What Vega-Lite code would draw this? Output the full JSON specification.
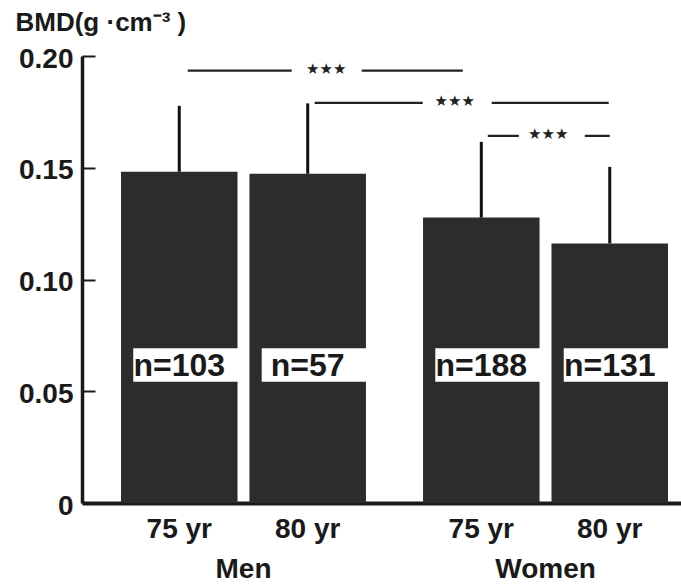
{
  "$schema": "https://vega.github.io/schema/vega-lite/v6.json",
  "width": 599,
  "height": 447,
  "autosize": "none",
  "padding": {"left": 82, "top": 56, "right": 0, "bottom": 82},
  "background": "white",
  "config": {
    "view": {"stroke": null},
    "font": "Liberation Sans",
    "axis": {"grid": false}
  },
  "datasets": {
    "bmd": [
      {"sex": "Men", "age": "75 yr", "bmd": 0.1482, "upper": 0.1777, "n": 103},
      {"sex": "Men", "age": "80 yr", "bmd": 0.1473, "upper": 0.1788, "n": 57},
      {"sex": "Women", "age": "75 yr", "bmd": 0.1277, "upper": 0.1616, "n": 188},
      {"sex": "Women", "age": "80 yr", "bmd": 0.1161, "upper": 0.1504, "n": 131}
    ],
    "sig": [
      {"cmp": 1, "end": "start", "sex": "Men", "age": "75 yr", "y": 0.1935, "label": "★★★"},
      {"cmp": 1, "end": "end", "sex": "Women", "age": "75 yr", "y": 0.1935, "label": "★★★"},
      {"cmp": 2, "end": "start", "sex": "Men", "age": "80 yr", "y": 0.179, "label": "★★★"},
      {"cmp": 2, "end": "end", "sex": "Women", "age": "80 yr", "y": 0.179, "label": "★★★"},
      {"cmp": 3, "end": "start", "sex": "Women", "age": "75 yr", "y": 0.1643, "label": "★★★"},
      {"cmp": 3, "end": "end", "sex": "Women", "age": "80 yr", "y": 0.1643, "label": "★★★"}
    ]
  },
  "layer": [
    {
      "data": {"name": "bmd"},
      "mark": {"type": "bar", "color": "#2c2c2c"},
      "encoding": {
        "x": {
          "field": "sex", "type": "nominal",
          "scale": {"domain": ["Men", "Women"], "paddingInner": 0.189, "paddingOuter": 0.0861, "align": 0.75},
          "axis": {
            "title": null, "labelAngle": 0, "ticks": false, "tickSize": 0,
            "labelFont": "Liberation Sans", "labelFontWeight": "bold", "labelFontSize": 28,
            "labelColor": "#1a1a1a", "labelBaseline": "middle", "labelPadding": 66,
            "domainColor": "#1a1a1a", "domainWidth": 4
          }
        },
        "xOffset": {
          "field": "age", "type": "nominal",
          "scale": {"domain": ["75 yr", "80 yr"], "paddingInner": 0.093, "paddingOuter": 0}
        },
        "y": {
          "field": "bmd", "type": "quantitative",
          "scale": {"domain": [0, 0.2], "nice": false, "zero": true},
          "axis": {
            "values": [0, 0.05, 0.1, 0.15, 0.2],
            "labelExpr": "datum.value == 0 ? '0' : format(datum.value, '.2f')",
            "labelFont": "Liberation Sans", "labelFontWeight": "bold", "labelFontSize": 28,
            "labelColor": "#1a1a1a", "labelPadding": 22, "labelOffset": 3,
            "tickSize": -13, "tickWidth": 2, "tickColor": "#1a1a1a",
            "domainColor": "#1a1a1a", "domainWidth": 3.5,
            "title": "BMD(g ·cm⁻³ )", "titleAngle": 0, "titleAlign": "left", "titleBaseline": "middle",
            "titleX": -67, "titleY": -34, "titleFont": "Liberation Sans", "titleFontWeight": "bold",
            "titleFontSize": 26, "titleColor": "#1a1a1a"
          }
        }
      }
    },
    {
      "data": {"name": "bmd"},
      "mark": {"type": "rule", "color": "#111111", "strokeWidth": 3},
      "encoding": {
        "x": {"field": "sex", "type": "nominal"},
        "xOffset": {"field": "age", "type": "nominal"},
        "y": {"field": "bmd", "type": "quantitative"},
        "y2": {"field": "upper"}
      }
    },
    {
      "data": {"name": "bmd"},
      "mark": {"type": "bar", "color": "white", "width": {"band": 0.9}},
      "encoding": {
        "x": {"field": "sex", "type": "nominal"},
        "xOffset": {"field": "age", "type": "nominal"},
        "y": {"datum": 0.0692, "type": "quantitative"},
        "y2": {"datum": 0.0543}
      }
    },
    {
      "data": {"name": "bmd"},
      "mark": {"type": "text", "font": "Liberation Sans", "fontWeight": "bold", "fontSize": 32, "color": "#1a1a1a", "baseline": "middle", "text": {"expr": "'n=' + datum.n"}},
      "encoding": {
        "x": {"field": "sex", "type": "nominal"},
        "xOffset": {"field": "age", "type": "nominal"},
        "y": {"datum": 0.0614, "type": "quantitative"}
      }
    },
    {
      "data": {"name": "bmd"},
      "mark": {"type": "text", "font": "Liberation Sans", "fontWeight": "bold", "fontSize": 28, "color": "#1a1a1a", "baseline": "middle", "dy": 27},
      "encoding": {
        "x": {"field": "sex", "type": "nominal"},
        "xOffset": {"field": "age", "type": "nominal"},
        "y": {"datum": 0, "type": "quantitative"},
        "text": {"field": "age"}
      }
    },
    {
      "data": {"name": "sig"},
      "transform": [{"filter": "datum.cmp == 1"}],
      "mark": {"type": "line", "color": "#222222", "strokeWidth": 2.2, "strokeDash": [104, 70, 101, 100], "strokeDashOffset": 366.5},
      "encoding": {
        "x": {"field": "sex", "type": "nominal"},
        "xOffset": {"field": "age", "type": "nominal"},
        "y": {"field": "y", "type": "quantitative"}
      }
    },
    {
      "data": {"name": "sig"},
      "transform": [{"filter": "datum.cmp == 2"}],
      "mark": {"type": "line", "color": "#222222", "strokeWidth": 2.2, "strokeDash": [108, 69, 117, 100], "strokeDashOffset": 387},
      "encoding": {
        "x": {"field": "sex", "type": "nominal"},
        "xOffset": {"field": "age", "type": "nominal"},
        "y": {"field": "y", "type": "quantitative"}
      }
    },
    {
      "data": {"name": "sig"},
      "transform": [{"filter": "datum.cmp == 3"}],
      "mark": {"type": "line", "color": "#222222", "strokeWidth": 2.2, "strokeDash": [31, 66, 40, 100], "strokeDashOffset": 230.5},
      "encoding": {
        "x": {"field": "sex", "type": "nominal"},
        "xOffset": {"field": "age", "type": "nominal"},
        "y": {"field": "y", "type": "quantitative"}
      }
    },
    {
      "data": {"name": "sig"},
      "transform": [{"filter": "datum.end == 'start' && datum.cmp < 3"}],
      "mark": {"type": "text", "font": "DejaVu Sans", "fontSize": 15, "color": "#222222", "baseline": "middle", "dx": 147, "dy": -2},
      "encoding": {
        "x": {"field": "sex", "type": "nominal"},
        "xOffset": {"field": "age", "type": "nominal"},
        "y": {"field": "y", "type": "quantitative"},
        "text": {"field": "label"}
      }
    },
    {
      "data": {"name": "sig"},
      "transform": [{"filter": "datum.end == 'start' && datum.cmp == 3"}],
      "mark": {"type": "text", "font": "DejaVu Sans", "fontSize": 15, "color": "#222222", "baseline": "middle", "dx": 67, "dy": -2},
      "encoding": {
        "x": {"field": "sex", "type": "nominal"},
        "xOffset": {"field": "age", "type": "nominal"},
        "y": {"field": "y", "type": "quantitative"},
        "text": {"field": "label"}
      }
    }
  ]
}
